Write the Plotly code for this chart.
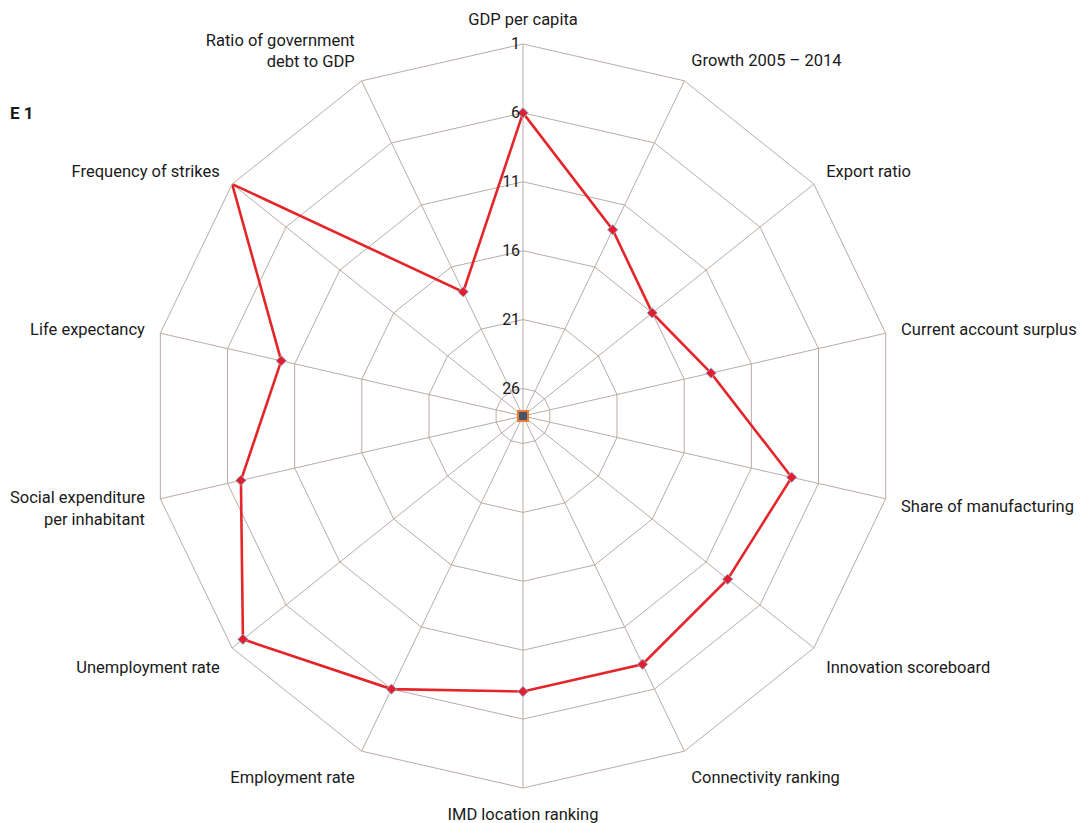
import plotly.graph_objects as go

categories = [
    "GDP per capita",
    "Growth 2005 – 2014",
    "Export ratio",
    "Current account surplus",
    "Share of manufacturing",
    "Innovation scoreboard",
    "Connectivity ranking",
    "IMD location ranking",
    "Employment rate",
    "Unemployment rate",
    "Social expenditure<br>per inhabitant",
    "Life expectancy",
    "Frequency of strikes",
    "Ratio of government<br>debt to GDP",
]
ranks = [6, 13, 16, 14, 8, 9, 8, 8, 6, 2, 7, 10, 1, 18]
center_series = [28]
radial_ticks = [1, 6, 11, 16, 21, 26]

W, H = 1088, 823
cx, cy, R = 515, 408, 372

fig = go.Figure()
fig.add_trace(go.Scatterpolar(
    r=ranks + ranks[:1],
    theta=categories + categories[:1],
    mode="lines+markers",
    line=dict(color="#e4262b", width=2.6),
    marker=dict(symbol="diamond", size=8, color="#e02030",
                line=dict(color="#8fc0e8", width=0.8)),
    showlegend=False,
    hoverinfo="skip",
))
fig.add_trace(go.Scatterpolar(
    r=center_series,
    theta=[categories[0]],
    mode="markers",
    marker=dict(symbol="square", size=10, color="#44546a",
                line=dict(color="#ed7d31", width=2)),
    showlegend=False,
    hoverinfo="skip",
))

grid_col = "#b9aca6"
fig.update_layout(
    width=W, height=H,
    margin=dict(l=0, r=0, t=0, b=0),
    paper_bgcolor="white",
    plot_bgcolor="white",
    font=dict(family="Roboto", size=16.5, color="#1a1a1a"),
    polar=dict(
        domain=dict(x=[(cx - R) / W, (cx + R) / W],
                    y=[1 - (cy + R) / H, 1 - (cy - R) / H]),
        bgcolor="white",
        gridshape="linear",
        angularaxis=dict(
            direction="clockwise",
            rotation=90,
            showline=True,
            linecolor=grid_col,
            linewidth=1,
            gridcolor=grid_col,
            gridwidth=1,
            ticks="outside",
            ticklen=12,
            tickcolor="rgba(0,0,0,0)",
            tickfont=dict(family="Roboto", size=16.5, color="#1a1a1a"),
        ),
        radialaxis=dict(
            range=[28, 1],
            tickvals=radial_ticks,
            ticktext=[str(v) for v in radial_ticks],
            angle=90,
            tickangle=90,
            side="counterclockwise",
            showline=False,
            ticks="",
            gridcolor=grid_col,
            gridwidth=1,
            tickfont=dict(family="Roboto", size=16, color="#1a1a1a"),
        ),
    ),
    annotations=[dict(
        text="<b>E 1</b>", x=0, y=1 - 105 / H,
        xref="paper", yref="paper", xanchor="left", yanchor="middle",
        showarrow=False, font=dict(family="Roboto", size=17, color="#1a1a1a"),
    )],
)
fig.write_html("out.html")
